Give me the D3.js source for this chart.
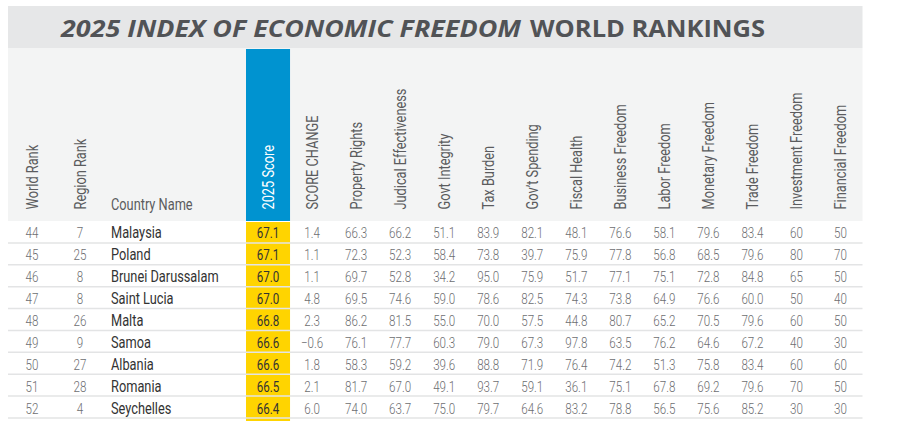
<!DOCTYPE html>
<html><head><meta charset="utf-8">
<script src="https://cdn.jsdelivr.net/npm/d3@7"></script>
<style>body{margin:0;background:#fff}svg{display:block}</style>
</head><body>
<script>
const worldRank = [44,45,46,47,48,49,50,51,52];
const regionRank = [7,25,8,8,26,9,27,28,4];
const countries = ["Malaysia","Poland","Brunei Darussalam","Saint Lucia","Malta","Samoa","Albania","Romania","Seychelles"];
const scores = [67.1,67.1,67.0,67.0,66.8,66.6,66.6,66.5,66.4];
const scoreChange = [1.4,1.1,1.1,4.8,2.3,-0.6,1.8,2.1,6.0];
const propertyRights = [66.3,72.3,69.7,69.5,86.2,76.1,58.3,81.7,74.0];
const judicialEffectiveness = [66.2,52.3,52.8,74.6,81.5,77.7,59.2,67.0,63.7];
const govtIntegrity = [51.1,58.4,34.2,59.0,55.0,60.3,39.6,49.1,75.0];
const taxBurden = [83.9,73.8,95.0,78.6,70.0,79.0,88.8,93.7,79.7];
const govSpending = [82.1,39.7,75.9,82.5,57.5,67.3,71.9,59.1,64.6];
const fiscalHealth = [48.1,75.9,51.7,74.3,44.8,97.8,76.4,36.1,83.2];
const businessFreedom = [76.6,77.8,77.1,73.8,80.7,63.5,74.2,75.1,78.8];
const laborFreedom = [58.1,56.8,75.1,64.9,65.2,76.2,51.3,67.8,56.5];
const monetaryFreedom = [79.6,68.5,72.8,76.6,70.5,64.6,75.8,69.2,75.6];
const tradeFreedom = [83.4,79.6,84.8,60.0,79.6,67.2,83.4,79.6,85.2];
const investmentFreedom = [60,80,65,50,60,40,60,70,30];
const financialFreedom = [50,70,50,40,50,30,60,50,30];

const titleItalic = "2025 INDEX OF ECONOMIC FREEDOM";
const titleRegular = "WORLD RANKINGS";
const leftHeaders = ["World Rank","Region Rank","Country Name"];
const numHeaders = ["2025 Score","SCORE CHANGE","Property Rights","Judical Effectiveness","Govt Integrity","Tax Burden","Gov’t Spending","Fiscal Health","Business Freedom","Labor Freedom","Monetary Freedom","Trade Freedom","Investment Freedom","Financial Freedom"];
const numSeries = [scores,scoreChange,propertyRights,judicialEffectiveness,govtIntegrity,taxBurden,govSpending,fiscalHealth,businessFreedom,laborFreedom,monetaryFreedom,tradeFreedom,investmentFreedom,financialFreedom];
const integerCols = ["Investment Freedom","Financial Freedom"];

const W = 900, H = 421;
const K = 0.8; // condensed factor
const FONT = "Roboto, 'Noto Sans', sans-serif";
const svg = d3.select("body").append("svg").attr("width", W).attr("height", H);

const L = 8, R = 862.5;
const x = d3.scaleBand().domain(numHeaders).range([246, R]);
const xLeft = d3.scaleOrdinal().domain(leftHeaders).range([32, 80, 111]);
const y = d3.scaleBand().domain(countries).range([221, 418]);

// backgrounds
svg.append("rect").attr("x", L).attr("y", 6).attr("width", R - L).attr("height", 42).attr("fill", "#e6e7e8");
svg.append("rect").attr("x", L).attr("y", 48).attr("width", R - L).attr("height", 173).attr("fill", "#f3f4f4");
svg.append("rect").attr("x", x("2025 Score")).attr("y", 49).attr("width", x.bandwidth()).attr("height", 172).attr("fill", "#0093d0");
svg.append("rect").attr("x", x("2025 Score")).attr("y", 222).attr("width", x.bandwidth()).attr("height", H - 222).attr("fill", "#ffd400");

// row separators
svg.append("g").selectAll("line").data(countries).join("line")
  .attr("x1", L).attr("x2", R)
  .attr("y1", d => y(d) + y.bandwidth()).attr("y2", d => y(d) + y.bandwidth())
  .attr("stroke", "#e3e4e5").attr("stroke-width", 1.5);

// title
const tg = svg.append("g").attr("font-family", "'Open Sans', sans-serif").attr("font-weight", 700)
  .attr("font-size", 24).attr("fill", "#515356");
tg.append("text").attr("x", 61).attr("y", 37).attr("font-style", "italic")
  .attr("textLength", 460).attr("lengthAdjust", "spacingAndGlyphs").text(titleItalic);
tg.append("text").attr("x", 530).attr("y", 37)
  .attr("textLength", 235).attr("lengthAdjust", "spacingAndGlyphs").text(titleRegular);

// headers
const hg = svg.append("g").attr("font-family", FONT).attr("font-size", 16).attr("fill", "#5b5c5e");
hg.selectAll("text.rot").data(leftHeaders.slice(0, 2)).join("text")
  .attr("transform", d => `translate(${xLeft(d) + 6},209.5) rotate(-90) scale(${K},1)`)
  .text(d => d);
hg.append("text").attr("transform", `translate(${xLeft("Country Name")},209.5) scale(${K},1)`).text("Country Name");
hg.selectAll("text.num").data(numHeaders).join("text")
  .attr("transform", d => `translate(${x(d) + x.bandwidth() / 2 + 6},209.5) rotate(-90) scale(${K},1)`)
  .attr("fill", d => d === "2025 Score" ? "#ffffff" : "#5b5c5e")
  .text(d => d);

// body
const f1 = d3.format(".1f"), f0 = d3.format("d");
const bg = svg.append("g").attr("font-family", FONT).attr("font-size", 14.5);
const cy = d => y(d) + y.bandwidth() / 2 + 6.5;

bg.selectAll("text.wr").data(countries).join("text")
  .attr("transform", (d, i) => `translate(${xLeft("World Rank")},${cy(d)}) scale(${K},1)`)
  .attr("text-anchor", "middle").attr("font-weight", 300).attr("fill", "#6d6e71")
  .text((d, i) => worldRank[i]);
bg.selectAll("text.rr").data(countries).join("text")
  .attr("transform", (d, i) => `translate(${xLeft("Region Rank")},${cy(d)}) scale(${K},1)`)
  .attr("text-anchor", "middle").attr("font-weight", 300).attr("fill", "#6d6e71")
  .text((d, i) => regionRank[i]);
bg.selectAll("text.cn").data(countries).join("text")
  .attr("transform", d => `translate(${xLeft("Country Name")},${cy(d)}) scale(${K},1)`)
  .attr("font-size", 16).attr("fill", "#333333")
  .text(d => d);

numHeaders.forEach((h, j) => {
  const vals = numSeries[j];
  const fmt = integerCols.includes(h) ? f0 : f1;
  bg.append("g").selectAll("text").data(countries).join("text")
    .attr("transform", d => `translate(${x(h) + x.bandwidth() / 2},${cy(d)}) scale(${K},1)`)
    .attr("text-anchor", "middle")
    .attr("font-weight", j === 0 ? 400 : 300)
    .attr("fill", j === 0 ? "#333333" : "#6d6e71")
    .text((d, i) => fmt(vals[i]));
});
</script>
</body></html>
